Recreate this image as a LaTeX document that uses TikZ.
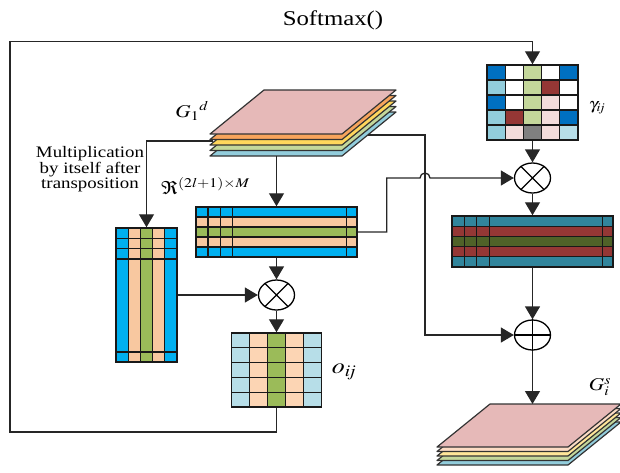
\documentclass[tikz,border=0pt]{standalone}
\usepackage{mathptmx}
\usepackage{fontspec}
\setmainfont{Liberation Serif}
\usepackage{graphicx}
\usetikzlibrary{arrows.meta,shapes.geometric,calc}
\definecolor{skyblue}{RGB}{0,176,240}
\definecolor{peach}{RGB}{248,200,160}
\definecolor{leaf}{RGB}{155,187,89}
\definecolor{paleblue}{RGB}{183,222,232}
\definecolor{palepeach}{RGB}{252,213,180}
\definecolor{deepblue}{RGB}{0,112,192}
\definecolor{midblue}{RGB}{146,205,220}
\definecolor{softgreen}{RGB}{196,215,155}
\definecolor{brick}{RGB}{149,55,53}
\definecolor{rosepink}{RGB}{242,220,219}
\definecolor{stone}{RGB}{128,128,128}
\definecolor{tealc}{RGB}{49,133,156}
\definecolor{mossc}{RGB}{79,98,40}
\definecolor{layerpink}{RGB}{230,185,184}
\definecolor{layerorange}{RGB}{247,164,92}
\definecolor{layeryellow}{RGB}{255,214,92}
\definecolor{layergreen}{RGB}{196,215,155}
\definecolor{layerblue}{RGB}{146,205,220}
\definecolor{layerpeach}{RGB}{252,220,196}
\definecolor{layercream}{RGB}{255,230,153}
\newcommand{\wider}[1]{\scalebox{1.18}[1]{#1}}
\tikzset{
  flow/.style ={-{Triangle[length=13pt,width=15pt]}, line width=1.3pt, draw=black!85},
  cell/.style ={draw=black!90, line width=1.3pt},
  frame/.style={rectangle, draw=black!90, line width=1.5pt, inner sep=0pt},
  opc/.style  ={ellipse, draw=black, line width=1.3pt, minimum width=36pt, minimum height=30pt, inner sep=0pt},
  layer/.style={draw=black!80, line width=1.2pt, line join=round},
  lbl/.style  ={inner sep=1pt, font=\fontsize{18pt}{21pt}\selectfont},
}
\begin{document}
\begin{tikzpicture}[x=1pt,y=-1pt]
  \useasboundingbox (0,0) rectangle (620,472);
  % input feature stack
  \foreach \c [count=\i from 0] in {layerblue,layergreen,layeryellow,layerorange,layerpink}
    \filldraw[fill=\c, layer] (210,{156-5.5*\i}) -- ++(132,0) -- ++(54,-44) -- ++(-132,0) -- cycle;
  \coordinate (gdw) at (213,141);
  \coordinate (gds) at (276.5,156);
  \coordinate (gde) at (368,135);
  % output feature stack
  \foreach \c [count=\i from 0] in {layerblue,layergreen,layercream,layerpeach,layerpink}
    \filldraw[fill=\c, layer] (437,{465-4.5*\i}) -- ++(131,0) -- ++(53,-43) -- ++(-131,0) -- cycle;
  \coordinate (gsn) at (532.5,404);
  % weight matrix
  \foreach \row [count=\r from 0] in {{deepblue,white,softgreen,white,deepblue},{midblue,white,softgreen,brick,white},{deepblue,white,softgreen,rosepink,white},{midblue,brick,softgreen,rosepink,deepblue},{midblue,rosepink,stone,rosepink,paleblue}}
    \foreach \c [count=\k from 0] in \row
      \filldraw[fill=\c, cell] ({487+18.2*\k},{65+15*\r}) rectangle ++(18.2,15);
  \node[frame, minimum width=91pt, minimum height=75pt] (gamma) at (532.5,102.5) {};
  % unfolded matrix
  \foreach \c [count=\r from 0] in {skyblue,peach,leaf,peach,skyblue}
    \filldraw[fill=\c, cell] (196,{207+10*\r}) rectangle ++(161,10);
  \foreach \x in {208,220.3,232.6,346.7} \draw[cell] (\x,207) -- (\x,257);
  \node[frame, minimum width=161pt, minimum height=50pt] (topmat) at (276.5,232) {};
  % transposed matrix
  \foreach \c [count=\k from 0] in {skyblue,peach,leaf,peach,skyblue}
    \filldraw[fill=\c, cell] ({116+12.2*\k},228) rectangle ++(12.2,134);
  \foreach \y in {238.3,248.6,259,352} \draw[cell] (116,\y) -- (177,\y);
  \node[frame, minimum width=61pt, minimum height=134pt] (sidemat) at (146.5,295) {};
  % correlation matrix
  \foreach \c [count=\k from 0] in {paleblue,palepeach,leaf,palepeach,paleblue}
    \foreach \r in {0,...,4}
      \filldraw[fill=\c, cell] ({231.5+18*\k},{333+14.8*\r}) rectangle ++(18,14.8);
  \node[frame, minimum width=90pt, minimum height=74pt] (omat) at (276.5,370) {};
  % weighted matrix
  \foreach \c [count=\r from 0] in {tealc,brick,mossc,brick,tealc}
    \filldraw[fill=\c, cell] (452,{216+10.2*\r}) rectangle ++(161,10.2);
  \foreach \x in {464.3,476.7,489.3,602.7} \draw[cell] (\x,216) -- (\x,267);
  \node[frame, minimum width=161pt, minimum height=51pt] (wmat) at (532.5,241.5) {};
  % operators
  \node[opc] (mul) at (532.5,178) {};
  \node[opc] (mix) at (276.5,295) {};
  \node[opc] (add) at (532.5,335) {};
  \draw[line width=1.3pt] (mul.45) -- (mul.225) (mul.135) -- (mul.315);
  \draw[line width=1.3pt] (mix.45) -- (mix.225) (mix.135) -- (mix.315);
  \draw[line width=1.3pt] (add.north) -- (add.south) (add.west) -- (add.east);
  % connectors
  \coordinate (skip) at (425,135);
  \coordinate (lowleft) at (10,432);
  \coordinate (upleft) at (10,41.7);
  \draw[flow] (gdw) -| (sidemat.north);
  \draw[flow] (gds) -- (topmat.north);
  \draw[flow] (gde) -- (skip) |- (add.west);
  \draw[flow] (topmat.east) -- ++(29,0) |- ($(skip|-mul.west)+(-5,0)$)
    arc[start angle=180, end angle=0, radius=5pt] -- (mul.west);
  \draw[flow] (sidemat.east) -- (mix.west);
  \draw[flow] (topmat.south) -- (mix.north);
  \draw[flow] (mix.south) -- (omat.north);
  \draw[flow] (omat.south) |- (lowleft) -- (upleft) -| (gamma.north);
  \draw[flow] (gamma.south) -- (mul.north);
  \draw[flow] (mul.south) -- (wmat.north);
  \draw[flow] (wmat.south) -- (add.north);
  \draw[flow] (add.south) -- (gsn);
  % labels
  \node[lbl, font=\fontsize{21pt}{24pt}\selectfont] (softmax) at (333,20) {\wider{Softmax()}};
  \node[lbl, fill=white, inner xsep=2pt, font=\fontsize{16pt}{15pt}\selectfont] (note) at (90,170)
    {\wider{\begin{tabular}{@{}c@{}}Multiplication\\by itself after\\transposition\end{tabular}}};
  \node[lbl] (gdlab) at (192,111) {\wider{$G_1{}^{d}$}};
  \node[lbl] (gslab) at (600,387) {\wider{$G_i^{s}$}};
  \node[lbl, font=\fontsize{16pt}{19pt}\selectfont] (gamlab) at (597,108) {\wider{$\gamma_{\mathit{ij}}$}};
  \node[lbl, font=\fontsize{22pt}{26pt}\selectfont] (olab) at (344,372) {\wider{$o_{\mathit{ij}}$}};
  \node[lbl, anchor=west] (relab) at (160,186) {\wider{$\Re^{(2l+1)\times M}$}};
\end{tikzpicture}
\end{document}
